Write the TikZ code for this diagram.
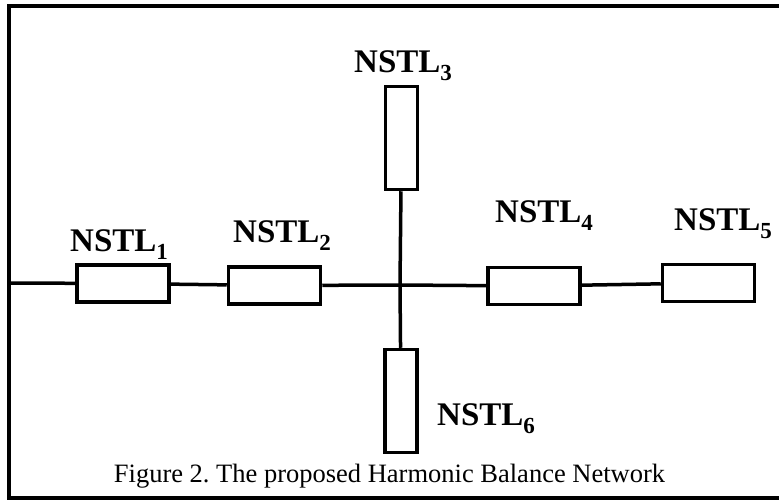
\documentclass[tikz,border=0pt]{standalone}
\usepackage{fontspec}
\setmainfont{Liberation Serif}
\usetikzlibrary{positioning}
\frenchspacing
\newcommand{\lsub}[1]{\raisebox{-8pt}{\fontsize{23}{23}\selectfont #1}}
\tikzset{x=1pt, y=-1pt,
every node/.style={inner sep=0pt},
nstl/.style={
draw,
line width=3.5pt,
fill=white,
minimum width=92pt,
minimum height=37pt},
stub/.style={
nstl,
minimum width=32pt,
minimum height=103pt},
tag/.style={
font=\fontsize{33}{33}\selectfont\bfseries,
anchor=base west},
wire/.style={
line width=3.5pt}}

\begin{document}
\begin{tikzpicture}
\useasboundingbox (0,0) rectangle (779,501);
\draw[line width=3.5pt] (9,6) rectangle (790,498);
\coordinate (in) at (9,283);
\coordinate (jn) at (400,285);
\node[nstl] (l1) at (123,283.5) {};
\node[nstl] (l2) at (274.5,285.5) {};
\node[nstl] (l4) at (534,286) {};
\node[nstl] (l5) at (708.5,283) {};
\node[stub] (l3) at (401.5,138) {};
\node[stub] (l6) at (401,401) {};
\draw[wire] (in) -- (l1);
\draw[wire] (l1) -- (l2);
\draw[wire] (l2) -- (jn);
\draw[wire] (jn) -- (l4);
\draw[wire] (l4) -- (l5);
\draw[wire] (l3) -- (jn);
\draw[wire] (jn) -- (l6);
% labels
\node[tag] (t1) at (70,251) {NSTL\lsub{1}};
\node[tag] (t2) at (233,242) {NSTL\lsub{2}};
\node[tag] (t3) at (354,72) {NSTL\lsub{3}};
\node[tag] (t4) at (495,222) {NSTL\lsub{4}};
\node[tag] (t5) at (674,230) {NSTL\lsub{5}};
\node[tag] (t6) at (437,425) {NSTL\lsub{6}};
\node[font=\fontsize{26.5}{26.5}\selectfont, anchor=base] (cap) at (389.5,482)
{Figure 2. The proposed Harmonic Balance Network};
\end{tikzpicture}
\end{document}
